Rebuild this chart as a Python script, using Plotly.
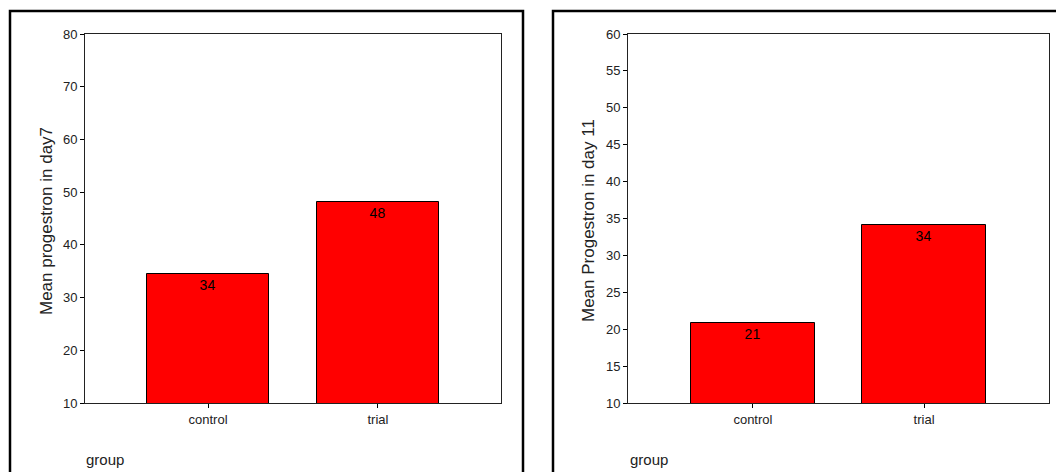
import plotly.graph_objects as go

# data
groups = ["control", "trial"]
day7_means = [34.5, 48.1]
day7_labels = ["34", "48"]
day11_means = [20.9, 34.1]
day11_labels = ["21", "34"]

# body margin is removed in the page (post_script below), so paper = window
W, H = 1056, 472


def px(x):
    return x / W


def py(y):
    return 1 - y / H


narrow = "Liberation Sans Narrow, Arial Narrow, Liberation Sans, Arial"
plain = "Liberation Sans, Arial"

fig = go.Figure()

fig.add_trace(
        go.Bar(x=groups, y=day7_means, text=day7_labels,
               textposition="inside", insidetextanchor="end",
               textfont=dict(family=narrow, size=14, color="black"),
               marker=dict(color="#ff0000", line=dict(color="black", width=1)),
               width=0.72, xaxis="x", yaxis="y", showlegend=False)
)
fig.add_trace(
        go.Bar(x=groups, y=day11_means, text=day11_labels,
               textposition="inside", insidetextanchor="end",
               textfont=dict(family=narrow, size=14, color="black"),
               marker=dict(color="#ff0000", line=dict(color="black", width=1)),
               width=0.72, xaxis="x2", yaxis="y2", showlegend=False)
)

axis_common = dict(
    showline=True, linecolor="#222", linewidth=1, mirror=True,
    ticks="outside", ticklen=4, tickcolor="black",
    showgrid=False, zeroline=False, automargin=False,
    tickfont=dict(family=narrow, size=13, color="#222"),
)

fig.update_layout(
    width=W, height=H,
    margin=dict(l=0, r=0, t=0, b=0),
    paper_bgcolor="white", plot_bgcolor="white",
    bargap=0,
    xaxis=dict(domain=[px(85), px(501)], anchor="y", range=[-0.724, 1.724],
               **axis_common),
    yaxis=dict(domain=[py(403), py(34)], anchor="x", range=[10, 80],
               tickvals=[10, 20, 30, 40, 50, 60, 70, 80], **axis_common),
    xaxis2=dict(domain=[px(628), px(1049)], anchor="y2", range=[-0.73, 1.73],
                **axis_common),
    yaxis2=dict(domain=[py(403), py(34)], anchor="x2", range=[10, 60],
                tickvals=[10, 15, 20, 25, 30, 35, 40, 45, 50, 55, 60],
                **axis_common),
)

# outer chart frames
for x0, x1 in [(10, 523), (553, 1070)]:
    fig.add_shape(type="rect", xref="paper", yref="paper",
                  x0=px(x0), x1=px(x1), y0=py(490), y1=py(11),
                  line=dict(color="black", width=2.5))

# y titles, placed like the SPSS output
for text, x in [("Mean progestron in day7", 46), ("Mean Progestron in day 11", 588)]:
    fig.add_annotation(text=text, xref="paper", yref="paper",
                       x=px(x), y=py(221), textangle=-90,
                       xanchor="center", yanchor="middle", showarrow=False,
                       font=dict(family=plain, size=17, color="#222"))

for x in [84, 628]:
    fig.add_annotation(text="group", xref="paper", yref="paper",
                       x=px(x), y=py(459), xanchor="left", yanchor="middle",
                       showarrow=False,
                       font=dict(family=plain, size=15, color="#222"))

fig.write_html("out.html", config={"displayModeBar": False},
               post_script="document.body.style.margin='0';"
                           "document.body.style.overflow='hidden';")
